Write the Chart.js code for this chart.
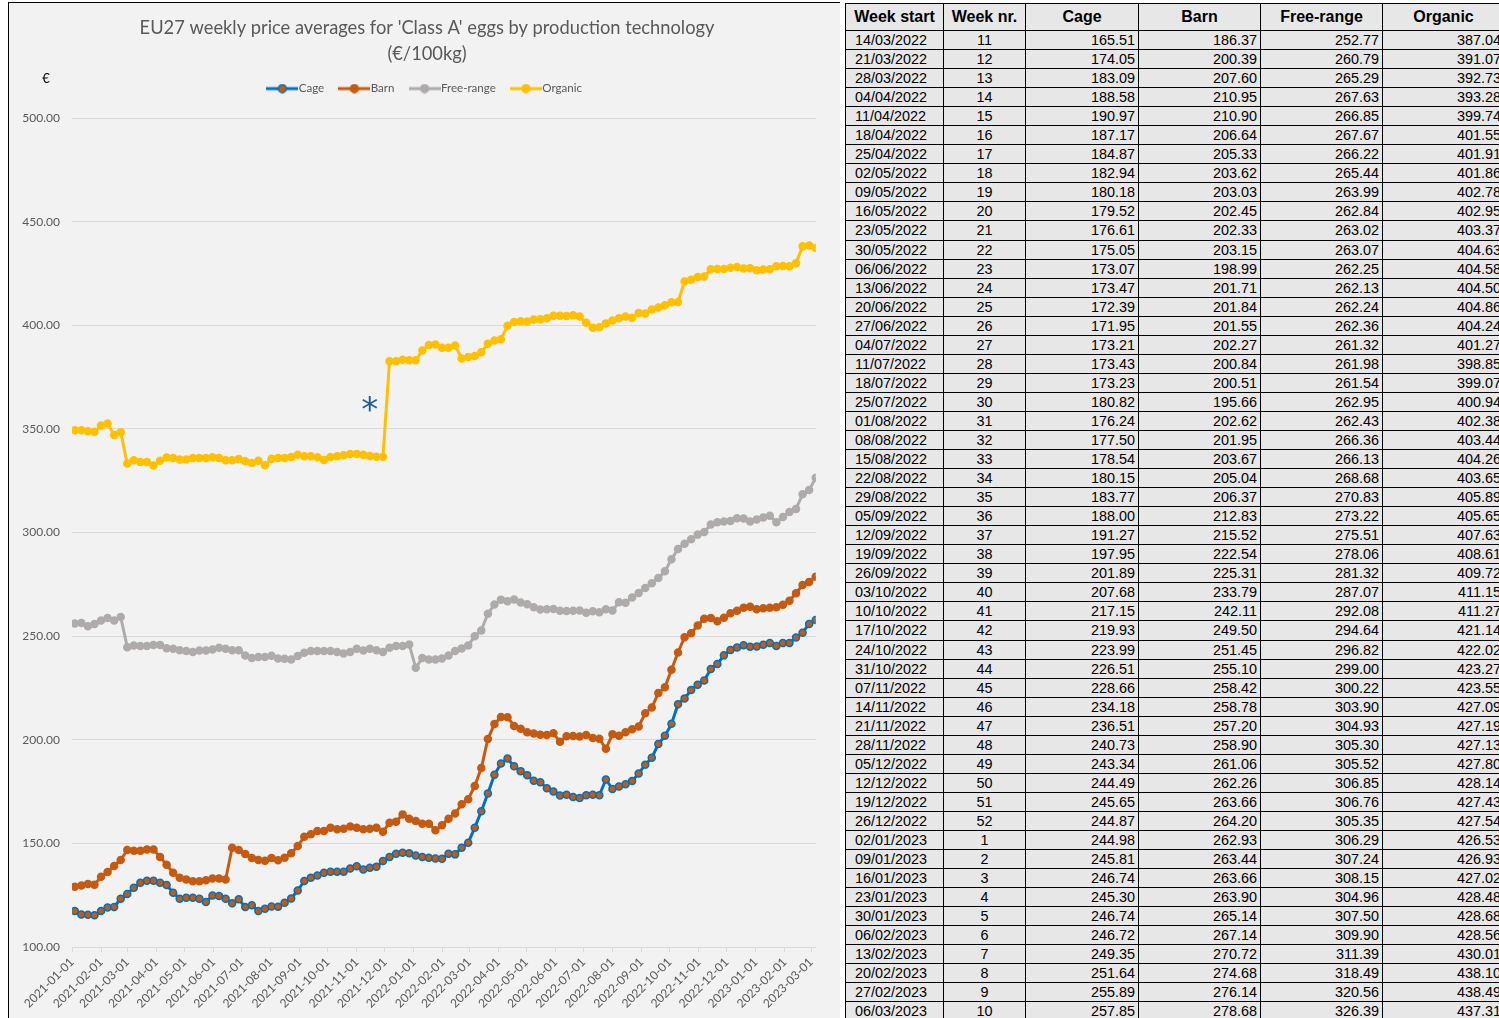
<!DOCTYPE html>
<html>
<head>
<meta charset="utf-8">
<title>EU27 weekly egg prices</title>
<script src="https://cdn.jsdelivr.net/npm/chart.js@4.4.1/dist/chart.umd.min.js"></script>
<style>
  html, body { margin: 0; padding: 0; background: #fff; }
  body { width: 1499px; height: 1018px; overflow: hidden; position: relative; }
  #chartBox {
    position: absolute; left: 8px; top: 2px; width: 832px; height: 1016px;
    box-sizing: border-box; background: #f2f2f2;
    border-left: 1px solid #000; border-top: 1px solid #000;
  }
  #chartBox canvas { display: block; }
  #priceTable {
    position: absolute; left: 845px; top: 3px;
    display: grid;
    grid-template-columns: 98px 82px 113px 122px 122px 122px;
    grid-template-rows: 27px repeat(52, 19.06px);
    border-left: 1px solid #000; border-top: 1px solid #000;
    background: #e7e7e7;
    font-family: "Liberation Sans", Arial, sans-serif; font-size: 14.4px; color: #000;
  }
  #priceTable div {
    box-sizing: border-box; border-right: 1px solid #000; border-bottom: 1px solid #000;
    display: flex; align-items: center; padding: 0 3px; white-space: nowrap; overflow: hidden;
  }
  #priceTable .head { font-weight: bold; font-size: 16px; justify-content: center; }
  #priceTable .date { justify-content: flex-start; padding-left: 9px; }
  #priceTable .mid { justify-content: center; }
  #priceTable .num { justify-content: flex-end; }
</style>
</head>
<body>
<div id="chartBox"><canvas id="eggChart" width="831" height="1015"></canvas></div>
<div id="priceTable"></div>

<script>
// Weekly series start on Monday 2021-01-04 (ISO week 1) and run to 2023-03-06
const firstWeekStart = Date.UTC(2021, 0, 4);
const weekCount = 114;

// month labels on the date axis
const xTickLabels = [
  '2021-01-01', '2021-02-01', '2021-03-01', '2021-04-01', '2021-05-01', '2021-06-01',
  '2021-07-01', '2021-08-01', '2021-09-01', '2021-10-01', '2021-11-01', '2021-12-01',
  '2022-01-01', '2022-02-01', '2022-03-01', '2022-04-01', '2022-05-01', '2022-06-01',
  '2022-07-01', '2022-08-01', '2022-09-01', '2022-10-01', '2022-11-01', '2022-12-01',
  '2023-01-01', '2023-02-01', '2023-03-01'
];
const yTicks = [100, 150, 200, 250, 300, 350, 400, 450, 500];

// €/100kg, one value per week (2021 wk1 .. 2023 wk10)
const cage = [
  117.4, 115.7, 115.6, 115.3, 117.4, 119.1, 119.3, 123.3, 125.6, 128.6,
  131.0, 132.0, 132.0, 131.0, 129.9, 126.2, 123.3, 123.8, 123.8, 123.3,
  121.7, 124.9, 124.6, 123.3, 121.1, 123.0, 119.3, 120.1, 117.4, 118.5,
  119.6, 119.4, 121.3, 123.4, 127.3, 131.8, 133.4, 134.5, 135.8, 136.3,
  136.3, 136.3, 137.9, 139.0, 137.4, 138.2, 138.7, 141.5, 143.4, 145.0,
  145.5, 145.2, 144.2, 143.4, 143.1, 142.7, 142.6, 145.0, 144.7, 147.9,
  150.3, 157.6,
  165.51, 174.05, 183.09, 188.58, 190.97, 187.17, 184.87, 182.94, 180.18, 179.52,
  176.61, 175.05, 173.07, 173.47, 172.39, 171.95, 173.21, 173.43, 173.23, 180.82,
  176.24, 177.50, 178.54, 180.15, 183.77, 188.00, 191.27, 197.95, 201.89, 207.68,
  217.15, 219.93, 223.99, 226.51, 228.66, 234.18, 236.51, 240.73, 243.34, 244.49,
  245.65, 244.87, 244.98, 245.81, 246.74, 245.30, 246.74, 246.72, 249.35, 251.64,
  255.89, 257.85
];
const barn = [
  129.1, 129.7, 130.4, 130.1, 133.9, 136.2, 139.1, 142.0, 146.8, 146.5,
  146.5, 147.1, 147.1, 143.4, 139.7, 135.8, 133.4, 132.6, 131.7, 131.7,
  132.2, 133.0, 133.0, 132.6, 147.9, 146.8, 144.9, 142.9, 142.0, 141.6,
  143.0, 141.9, 143.1, 145.2, 148.7, 153.2, 154.4, 156.0, 156.0, 157.6,
  156.8, 157.1, 158.1, 157.6, 156.8, 157.1, 157.6, 155.6, 160.0, 160.5,
  164.0, 161.9, 160.8, 159.5, 159.5, 156.3, 158.7, 161.9, 164.4, 168.9,
  171.3, 177.7,
  186.37, 200.39, 207.60, 210.95, 210.90, 206.64, 205.33, 203.62, 203.03, 202.45,
  202.33, 203.15, 198.99, 201.71, 201.84, 201.55, 202.27, 200.84, 200.51, 195.66,
  202.62, 201.95, 203.67, 205.04, 206.37, 212.83, 215.52, 222.54, 225.31, 233.79,
  242.11, 249.50, 251.45, 255.10, 258.42, 258.78, 257.20, 258.90, 261.06, 262.26,
  263.66, 264.20, 262.93, 263.44, 263.66, 263.90, 265.14, 267.14, 270.72, 274.68,
  276.14, 278.68
];
const freeRange = [
  256.1, 256.4, 254.8, 255.9, 257.6, 258.8, 257.6, 259.3, 244.7, 245.5,
  245.2, 245.2, 245.7, 245.7, 244.2, 243.9, 243.2, 242.8, 242.4, 243.1,
  243.1, 243.6, 244.4, 243.9, 243.2, 243.2, 240.7, 239.5, 240.0, 240.0,
  240.5, 239.2, 239.1, 238.7, 240.4, 242.0, 242.8, 242.8, 242.8, 242.8,
  242.3, 241.6, 242.3, 243.9, 243.1, 243.9, 243.2, 242.4, 244.4, 245.2,
  245.2, 246.0, 234.7, 239.5, 238.7, 238.7, 239.2, 240.7, 242.8, 244.1,
  245.5, 250.0,
  252.77, 260.79, 265.29, 267.63, 266.85, 267.67, 266.22, 265.44, 263.99, 262.84,
  263.02, 263.07, 262.25, 262.13, 262.24, 262.36, 261.32, 261.98, 261.54, 262.95,
  262.43, 266.36, 266.13, 268.68, 270.83, 273.22, 275.51, 278.06, 281.32, 287.07,
  292.08, 294.64, 296.82, 299.00, 300.22, 303.90, 304.93, 305.30, 305.52, 306.85,
  306.76, 305.35, 306.29, 307.24, 308.15, 304.96, 307.50, 309.90, 311.39, 318.49,
  320.56, 326.39
];
const organic = [
  349.4, 349.4, 348.9, 348.6, 351.6, 352.6, 347.1, 348.4, 333.3, 334.9,
  334.1, 334.1, 332.3, 334.6, 336.2, 336.0, 335.2, 335.2, 336.0, 336.0,
  336.0, 336.3, 336.0, 334.9, 334.9, 335.5, 334.4, 333.6, 334.6, 332.5,
  335.6, 336.0, 336.0, 336.5, 337.6, 336.8, 336.8, 336.3, 335.0, 336.5,
  336.8, 337.3, 337.9, 337.9, 337.6, 336.9, 336.6, 336.6, 382.7, 382.7,
  383.4, 383.1, 383.1, 387.9, 390.5, 390.8, 389.2, 389.2, 390.3, 384.0,
  384.7, 385.2,
  387.04, 391.07, 392.73, 393.28, 399.74, 401.55, 401.91, 401.86, 402.78, 402.95,
  403.37, 404.63, 404.58, 404.50, 404.86, 404.24, 401.27, 398.85, 399.07, 400.94,
  402.38, 403.44, 404.26, 403.65, 405.89, 405.65, 407.63, 408.61, 409.72, 411.15,
  411.27, 421.14, 422.02, 423.27, 423.55, 427.09, 427.19, 427.13, 427.80, 428.14,
  427.43, 427.54, 426.53, 426.93, 427.02, 428.48, 428.68, 428.56, 430.01, 438.10,
  438.49, 437.31
];

// the table lists the last 52 weeks
const tableWeeks = 52;

// asterisk note placed next to the organic jump (day offset, €/100kg)
const noteDay = 318;
const noteValue = 362;

const DAY = 86400000;
const origin = Date.UTC(2021, 0, 1);
const weekStarts = [];
for (let i = 0; i < weekCount; i++) weekStarts.push(new Date(firstWeekStart + i * 7 * DAY));
const dayOf = d => Math.round((d - origin) / DAY);
const monthTickDays = xTickLabels.map(s => dayOf(Date.parse(s)));

function isoWeek(d) {
  const t = new Date(Date.UTC(d.getUTCFullYear(), d.getUTCMonth(), d.getUTCDate()));
  const wd = t.getUTCDay() || 7;
  t.setUTCDate(t.getUTCDate() + 4 - wd);
  const yearStart = Date.UTC(t.getUTCFullYear(), 0, 1);
  return Math.ceil(((t - yearStart) / DAY + 1) / 7);
}

const toPoints = values => values.map((v, i) => ({ x: dayOf(weekStarts[i]), y: v }));

// Legend symbol: line with a marker, like the spreadsheet legend
function legendSymbol(lineColor, fill, border) {
  const c = document.createElement('canvas');
  c.width = 32; c.height = 10;
  const g = c.getContext('2d');
  g.strokeStyle = lineColor; g.lineWidth = 3;
  g.beginPath(); g.moveTo(0, 5); g.lineTo(32, 5); g.stroke();
  g.beginPath(); g.arc(16, 5, 4, 0, Math.PI * 2);
  g.fillStyle = fill; g.fill();
  g.lineWidth = 1.5; g.strokeStyle = border; g.stroke();
  return c;
}

const seriesStyle = [
  { label: 'Cage', data: cage, line: '#0070c0', fill: '#c55a11', border: '#0070c0' },
  { label: 'Barn', data: barn, line: '#c55a11', fill: '#c55a11', border: '#c55a11' },
  { label: 'Free-range', data: freeRange, line: '#afabab', fill: '#afabab', border: '#afabab' },
  { label: 'Organic', data: organic, line: '#ffc000', fill: '#ffc000', border: '#ffc000' }
];
const symbols = seriesStyle.map(s => legendSymbol(s.line, s.fill, s.border));

const notePlugin = {
  id: 'note',
  afterDatasetsDraw(chart) {
    const { ctx, scales } = chart;
    ctx.save();
    ctx.font = '34px "DejaVu Sans", sans-serif';
    ctx.fillStyle = '#1f5c99';
    ctx.textAlign = 'center';
    ctx.textBaseline = 'middle';
    ctx.fillText('*', scales.x.getPixelForValue(noteDay), scales.y.getPixelForValue(noteValue) + 8);
    // currency unit above the value axis
    ctx.font = '13px Lato, sans-serif';
    ctx.fillStyle = '#000';
    ctx.fillText('€', 37, 76);
    ctx.restore();
  }
};

const grey = '#595959';
const titleFont = { family: 'Lato, sans-serif', size: 18.3, weight: 'normal', lineHeight: 1 };

// invisible scale used only as a fixed margin box
const spacer = (position, size) => ({
  type: 'linear',
  position,
  display: true,
  afterFit(scale) {
    if (position === 'top') scale.height = size; else scale.width = size;
  },
  ticks: { display: false },
  grid: { display: false },
  border: { display: false }
});

new Chart(document.getElementById('eggChart').getContext('2d'), {
  type: 'line',
  data: {
    datasets: seriesStyle.map(s => ({
      label: s.label,
      data: toPoints(s.data),
      borderColor: s.line,
      backgroundColor: s.fill,
      borderWidth: 3,
      pointRadius: 3.5,
      pointBorderWidth: 1.5,
      pointBackgroundColor: s.fill,
      pointBorderColor: s.border,
      tension: 0
    }))
  },
  options: {
    responsive: false,
    animation: false,
    layout: { padding: { top: 0, left: 5, right: 0, bottom: 0 } },
    plugins: {
      title: {
        display: true,
        text: "EU27 weekly price averages for 'Class A' eggs by production technology",
        color: grey,
        font: titleFont,
        padding: { top: 16.4, bottom: 0 }
      },
      subtitle: {
        display: true,
        text: '(€/100kg)',
        color: grey,
        font: titleFont,
        padding: { top: 7.2, bottom: 0 }
      },
      legend: {
        display: true,
        position: 'top',
        labels: {
          usePointStyle: true,
          pointStyleWidth: 21,
          padding: 19.6,
          color: grey,
          font: { family: 'Lato, sans-serif', size: 11.6 },
          generateLabels(chart) {
            return Chart.defaults.plugins.legend.labels.generateLabels(chart)
              .map((item, i) => Object.assign(item, { pointStyle: symbols[i] }));
          }
        }
      },
      tooltip: { enabled: false }
    },
    scales: {
      x: {
        type: 'linear',
        min: 0,
        max: dayOf(weekStarts[weekCount - 1]),
        afterBuildTicks(scale) { scale.ticks = monthTickDays.map(v => ({ value: v })); },
        afterFit(scale) { scale.height = 71; },
        ticks: {
          autoSkip: false,
          minRotation: 45,
          maxRotation: 45,
          padding: 3,
          color: grey,
          font: { family: 'Lato, sans-serif', size: 12 },
          callback: (value, index) => xTickLabels[index]
        },
        grid: { display: true, drawOnChartArea: false, drawTicks: true, tickLength: 5, color: '#d9d9d9' },
        border: { display: true, color: '#d9d9d9', width: 1 }
      },
      y: {
        min: yTicks[0],
        max: yTicks[yTicks.length - 1],
        afterBuildTicks(scale) { scale.ticks = yTicks.map(v => ({ value: v })); },
        afterFit(scale) { scale.width = 58; },
        ticks: {
          padding: 12,
          color: grey,
          font: { family: 'Lato, sans-serif', size: 12 },
          callback: v => v.toFixed(2)
        },
        grid: { color: '#d9d9d9', lineWidth: 1, drawTicks: false },
        border: { display: false }
      },
      gapTop: spacer('top', 13.7),
      gapRight: spacer('right', 24.3)
    }
  },
  plugins: [notePlugin]
});

// Data table to the right of the chart
const table = document.getElementById('priceTable');
const cell = (text, cls) => {
  const d = document.createElement('div');
  d.className = cls;
  d.textContent = text;
  table.appendChild(d);
};
['Week start', 'Week nr.', 'Cage', 'Barn', 'Free-range', 'Organic'].forEach(h => cell(h, 'head'));
for (let i = weekCount - tableWeeks; i < weekCount; i++) {
  const d = weekStarts[i];
  const dd = String(d.getUTCDate()).padStart(2, '0');
  const mm = String(d.getUTCMonth() + 1).padStart(2, '0');
  cell(dd + '/' + mm + '/' + d.getUTCFullYear(), 'date');
  cell(isoWeek(d), 'mid');
  cell(cage[i].toFixed(2), 'num');
  cell(barn[i].toFixed(2), 'num');
  cell(freeRange[i].toFixed(2), 'num');
  cell(organic[i].toFixed(2), 'num');
}
</script>
</body>
</html>
